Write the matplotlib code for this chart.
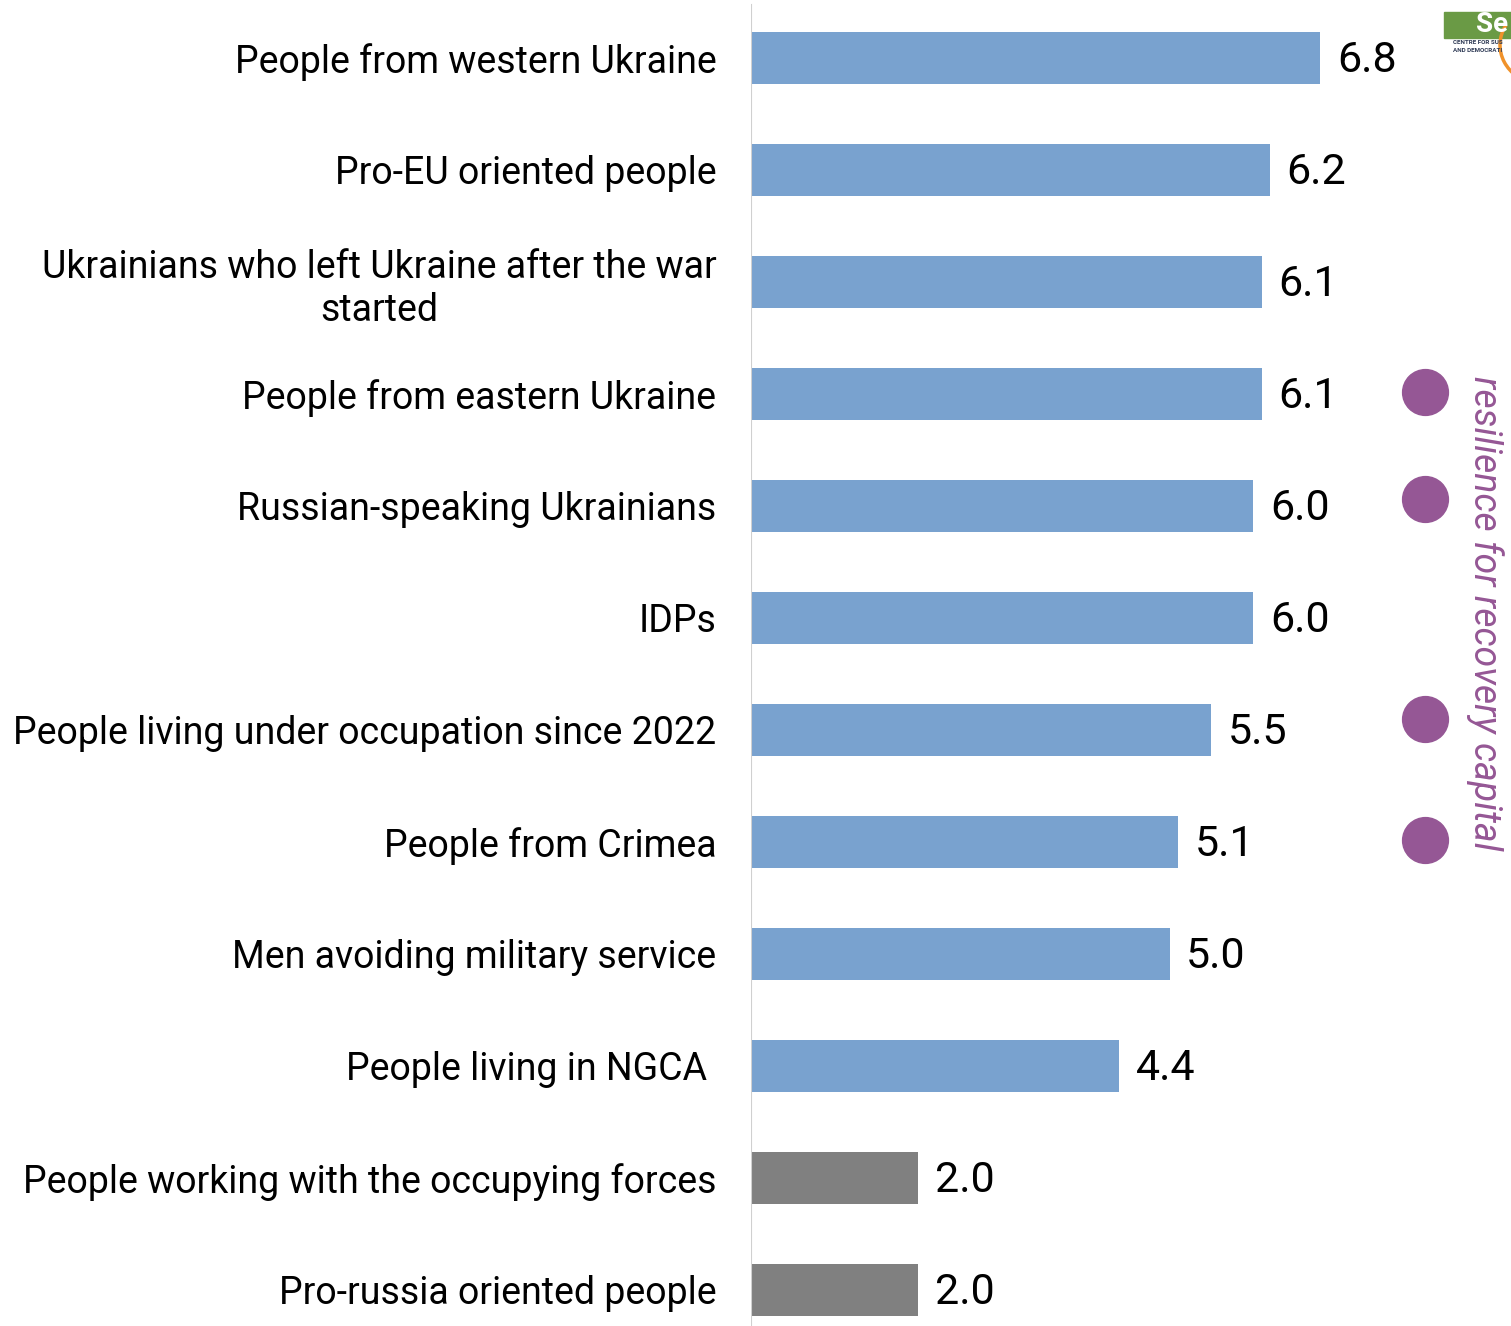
import matplotlib.pyplot as plt
from matplotlib.patches import Rectangle, Arc

plt.rcParams['font.family'] = ['Roboto', 'DejaVu Sans']

groups = ["People from western Ukraine",
          "Pro-EU oriented people",
          "Ukrainians who left Ukraine after the war\nstarted",
          "People from eastern Ukraine",
          "Russian-speaking Ukrainians",
          "IDPs",
          "People living under occupation since 2022",
          "People from Crimea",
          "Men avoiding military service",
          "People living in NGCA ",
          "People working with the occupying forces",
          "Pro-russia oriented people"]
scores = [6.8, 6.2, 6.1, 6.1, 6.0, 6.0, 5.5, 5.1, 5.0, 4.4, 2.0, 2.0]
highlighted = [False] * 10 + [True] * 2   # grey bars at the bottom

# purple dots marking the resilience groups
dot_rows = [2.98, 3.94, 5.9, 6.98]
dot_x = 8.05

blue = "#79A2CF"
grey = "#808080"
purple = "#955795"

fig = plt.figure(figsize=(15.11, 13.26), dpi=100)
ax = fig.add_axes([751 / 1511, 0, 760 / 1511, 1])

idx = list(range(len(groups)))
colors = [grey if h else blue for h in highlighted]
bars = ax.barh(idx, scores, height=0.465, color=colors)

ax.set_xlim(0, 760 / 83.7)
ax.set_ylim(11 + 36 / 112, -58 / 112)

ax.set_yticks(idx)
ax.set_yticklabels(groups, fontsize=27, multialignment="center")
ax.tick_params(axis="y", length=0, pad=25)
ax.set_xticks([])
for s in ax.spines.values():
    s.set_visible(False)
ax.axvline(0, ymin=0, ymax=1 - 5 / 1326, color="#d0d0d0", lw=1.5)

for b, v in zip(bars, scores):
    ax.text(b.get_width() + 0.2, b.get_y() + b.get_height() / 2 + 0.02, "%.1f" % v,
            va="center", ha="left", fontsize=31)

ax.scatter([dot_x] * len(dot_rows), dot_rows, s=33 ** 2, color=purple, clip_on=False)

fig.text(1485 / 1511, 1 - 613 / 1326, "resilience for recovery capital", rotation=-90,
         color=purple, fontsize=27, style="italic", ha="center", va="center")

# partial logo in the corner
fig.patches.append(Rectangle((1444 / 1511, 1 - 38 / 1326), 80 / 1511, 26 / 1326,
                             transform=fig.transFigure, color="#6A9A45"))
fig.text(1476 / 1511, 1 - 25 / 1326, "Se", color="white", fontsize=20, fontweight="bold",
         ha="left", va="center")
fig.text(1453 / 1511, 1 - 43 / 1326, "CENTRE FOR SUS", color="#2E3A55", fontsize=4.5,
         fontweight="bold", ha="left", va="center")
fig.text(1453 / 1511, 1 - 50 / 1326, "AND DEMOCRATI", color="#2E3A55", fontsize=4.5,
         fontweight="bold", ha="left", va="center")
fig.patches.append(Arc((1545 / 1511, 1 - 45 / 1326), 90 / 1511, 80 / 1326,
                       theta1=150, theta2=260, transform=fig.transFigure,
                       color="#F0922A", lw=2.5))

fig.savefig("out.png", dpi=100)
